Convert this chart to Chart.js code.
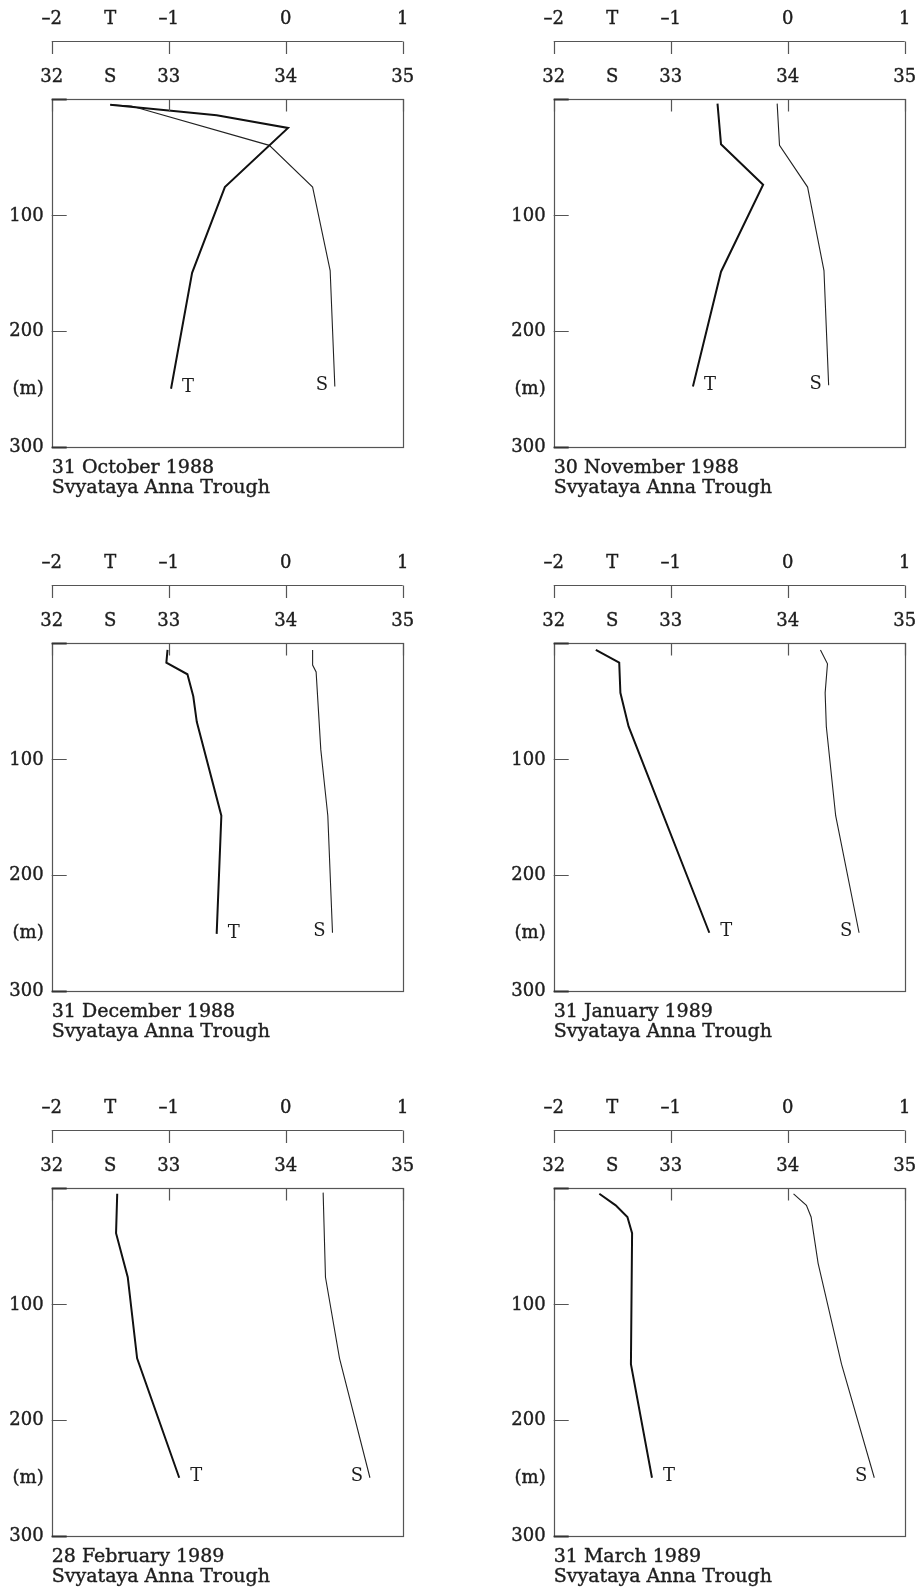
<!DOCTYPE html>
<html><head><meta charset="utf-8">
<script src="https://cdn.jsdelivr.net/npm/chart.js@4.4.0/dist/chart.umd.min.js"></script>
<style>
html,body{margin:0;padding:0;background:#fff;overflow:hidden;width:921px;height:1593px;position:relative}
canvas{position:absolute}
</style></head><body>
<script>
// ---- tick labels ----
const tTickValues = [-2, -1, 0, 1];
const tTickLabels = ["\u20132", "\u20131", "0", "1"];
const sTickValues = [32, 33, 34, 35];
const sTickLabels = ["32", "33", "34", "35"];
const depthTickValues = [0, 100, 200, 300];
const depthTickLabels = ["", "100", "200", "300"];
const depthUnitLabel = "(m)";
const depthUnitAt = 250;
const axisNameT = "T";
const axisNameS = "S";
const placeName = "Svyataya Anna Trough";

// ---- panel titles ----
const panelDates = ["31 October 1988", "30 November 1988", "31 December 1988",
                    "31 January 1989", "28 February 1989", "31 March 1989"];

// ---- data: depth (m), temperature (°C), salinity ----
const oct88TDepth = [5, 14, 25, 76, 150, 250];
const oct88T      = [-1.50, -0.59, 0.02, -0.52, -0.80, -0.98];
const oct88SDepth = [5, 6, 40, 76, 148, 248];
const oct88S      = [32.50, 32.68, 33.86, 34.23, 34.38, 34.42];

const nov88TDepth = [4, 39, 74, 149, 248];
const nov88T      = [-0.60, -0.57, -0.21, -0.57, -0.81];
const nov88SDepth = [4, 40, 76, 148, 247];
const nov88S      = [33.91, 33.93, 34.17, 34.31, 34.35];

const dec88TDepth = [6, 17, 27, 46, 68, 149, 251];
const dec88T      = [-1.01, -1.02, -0.84, -0.79, -0.76, -0.55, -0.59];
const dec88SDepth = [6, 19, 25, 92, 149, 250];
const dec88S      = [34.23, 34.23, 34.26, 34.30, 34.36, 34.40];

const jan89TDepth = [6, 17, 43, 72, 250];
const jan89T      = [-1.64, -1.44, -1.43, -1.36, -0.67];
const jan89SDepth = [6, 18, 43, 72, 149, 250];
const jan89S      = [34.28, 34.34, 34.32, 34.33, 34.41, 34.61];

const feb89TDepth = [5, 39, 77, 147, 250];
const feb89T      = [-1.44, -1.45, -1.35, -1.27, -0.91];
const feb89SDepth = [4, 77, 147, 250];
const feb89S      = [34.32, 34.34, 34.46, 34.72];

const mar89TDepth = [5, 15, 25, 39, 152, 250];
const mar89T      = [-1.61, -1.47, -1.37, -1.33, -1.34, -1.16];
const mar89SDepth = [5, 15, 25, 65, 152, 250];
const mar89S      = [34.05, 34.16, 34.20, 34.26, 34.46, 34.74];

const panels = [
  {date: panelDates[0], td: oct88TDepth, t: oct88T, sd: oct88SDepth, s: oct88S},
  {date: panelDates[1], td: nov88TDepth, t: nov88T, sd: nov88SDepth, s: nov88S},
  {date: panelDates[2], td: dec88TDepth, t: dec88T, sd: dec88SDepth, s: dec88S},
  {date: panelDates[3], td: jan89TDepth, t: jan89T, sd: jan89SDepth, s: jan89S},
  {date: panelDates[4], td: feb89TDepth, t: feb89T, sd: feb89SDepth, s: feb89S},
  {date: panelDates[5], td: mar89TDepth, t: mar89T, sd: mar89SDepth, s: mar89S}
];

// ---- layout ----
const CW = 419, CH = 544;
const colLeft = [0, 502.3];
const rowTop = [0, 544.3, 1088.7];
const PAD = {left: 51.7, top: 99, right: CW - 402.7, bottom: CH - 446.7};
const FAMILY = "'DejaVu Serif', 'Liberation Serif', serif";
const FONT = "18px " + FAMILY;
const CAPFONT = "19px " + FAMILY;
const TEXT = "#1e1e1e";
const AXIS = "#555";

function heavyText(ctx, s, x, y) {
  ctx.fillText(s, x, y);
  ctx.strokeText(s, x, y);
}

function makeDeco(p) {
  return {
    id: 'deco',
    afterDraw(chart) {
      const ctx = chart.ctx, a = chart.chartArea;
      const xs = chart.scales.x, xt = chart.scales.xT, y = chart.scales.y;
      const px = v => Math.round(v) + 0.5;
      ctx.save();
      ctx.strokeStyle = AXIS;
      ctx.lineWidth = 1.2;
      // frame
      ctx.strokeRect(px(a.left), px(a.top), Math.round(a.right) - Math.round(a.left), Math.round(a.bottom) - Math.round(a.top));
      // top ticks of S scale (inward)
      ctx.beginPath();
      sTickValues.forEach(v => {
        const x = px(xs.getPixelForValue(v));
        ctx.moveTo(x, a.top); ctx.lineTo(x, a.top + 12.5);
      });
      // left ticks (inward)
      depthTickValues.forEach(v => {
        const yy = px(y.getPixelForValue(v));
        ctx.moveTo(a.left, yy); ctx.lineTo(a.left + 15, yy);
      });
      ctx.stroke();
      // extra weight at corner ticks 0 and 300
      ctx.lineWidth = 2;
      ctx.strokeStyle = '#333';
      ctx.beginPath();
      [0, 300].forEach(v => {
        const yy = px(y.getPixelForValue(v));
        ctx.moveTo(a.left, yy); ctx.lineTo(a.left + 15, yy);
      });
      ctx.stroke();
      // T axis line above
      ctx.lineWidth = 1.2;
      ctx.strokeStyle = AXIS;
      const ty = px(a.top - 58.3);
      ctx.beginPath();
      ctx.moveTo(xt.getPixelForValue(tTickValues[0]), ty);
      ctx.lineTo(xt.getPixelForValue(tTickValues[tTickValues.length - 1]), ty);
      tTickValues.forEach(v => {
        const x = px(xt.getPixelForValue(v));
        ctx.moveTo(x, ty); ctx.lineTo(x, ty + 12.5);
      });
      ctx.stroke();

      // labels
      ctx.fillStyle = TEXT;
      ctx.strokeStyle = TEXT;
      ctx.lineWidth = 0.4;
      ctx.font = FONT;
      ctx.textAlign = 'center';
      ctx.textBaseline = 'middle';
      tTickValues.forEach((v, i) => heavyText(ctx, tTickLabels[i], xt.getPixelForValue(v), a.top - 80));
      heavyText(ctx, axisNameT, xt.getPixelForValue((tTickValues[0] + tTickValues[1]) / 2), a.top - 80);
      sTickValues.forEach((v, i) => heavyText(ctx, sTickLabels[i], xs.getPixelForValue(v), a.top - 21.5));
      heavyText(ctx, axisNameS, xs.getPixelForValue((sTickValues[0] + sTickValues[1]) / 2), a.top - 21.5);
      ctx.textAlign = 'right';
      depthTickValues.forEach((v, i) => {
        if (depthTickLabels[i]) heavyText(ctx, depthTickLabels[i], a.left - 8, y.getPixelForValue(v) + 1);
      });
      heavyText(ctx, depthUnitLabel, a.left - 8, y.getPixelForValue(depthUnitAt) + 1);

      // curve labels
      const nT = p.t.length - 1, nS = p.s.length - 1;
      ctx.textAlign = 'center';
      ctx.fillText(axisNameT, xt.getPixelForValue(p.t[nT]) + 17, y.getPixelForValue(p.td[nT]) - 1);
      ctx.fillText(axisNameS, xs.getPixelForValue(p.s[nS]) - 13, y.getPixelForValue(p.sd[nS]) - 1);

      // caption
      ctx.font = CAPFONT;
      ctx.textAlign = 'left';
      heavyText(ctx, p.date, a.left, a.bottom + 21.5);
      heavyText(ctx, placeName, a.left, a.bottom + 41.5);
      ctx.restore();
    }
  };
}

panels.forEach((p, i) => {
  const c = document.createElement('canvas');
  c.width = CW; c.height = CH;
  c.style.left = colLeft[i % 2] + 'px';
  c.style.top = rowTop[Math.floor(i / 2)] + 'px';
  c.style.width = CW + 'px'; c.style.height = CH + 'px';
  document.body.appendChild(c);
  new Chart(c, {
    type: 'scatter',
    data: {
      datasets: [
        {label: 'T', xAxisID: 'xT', yAxisID: 'y',
         data: p.t.map((v, k) => ({x: v, y: p.td[k]})),
         showLine: true, borderColor: '#111', borderWidth: 2, pointRadius: 0, tension: 0},
        {label: 'S', xAxisID: 'x', yAxisID: 'y',
         data: p.s.map((v, k) => ({x: v, y: p.sd[k]})),
         showLine: true, borderColor: '#222', borderWidth: 1.1, pointRadius: 0, tension: 0}
      ]
    },
    options: {
      responsive: false, animation: false, devicePixelRatio: 1,
      layout: {padding: PAD},
      plugins: {legend: {display: false}, tooltip: {enabled: false}},
      scales: {
        x: {type: 'linear', min: sTickValues[0], max: sTickValues[3], display: false},
        xT: {type: 'linear', min: tTickValues[0], max: tTickValues[3], display: false},
        y: {type: 'linear', min: 0, max: 300, reverse: true, display: false}
      }
    },
    plugins: [makeDeco(p)]
  });
});
</script>
</body></html>
